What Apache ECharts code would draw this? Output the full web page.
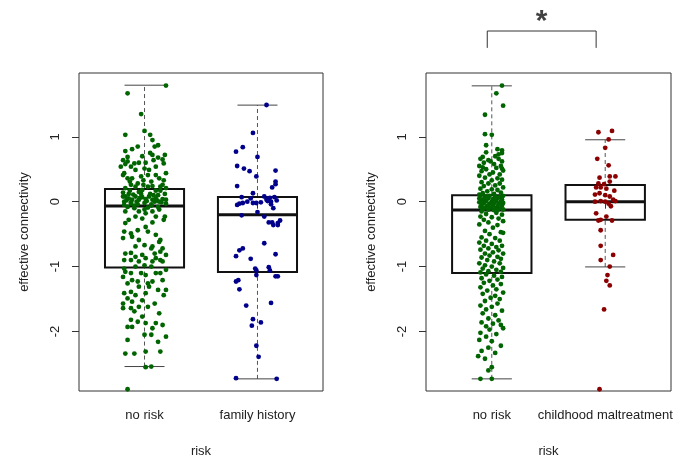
<!DOCTYPE html>
<html>
<head>
<meta charset="utf-8">
<script src="https://cdn.jsdelivr.net/npm/echarts@6/dist/echarts.min.js"></script>
<style>
html,body{margin:0;padding:0;background:#fff;}
#chart{width:673px;height:458px;}
</style>
</head>
<body>
<div id="chart"></div>
<script>
// ---------------- DATA ----------------
const leftCategories = ['no risk', 'family history'];
const rightCategories = ['no risk', 'childhood maltreatment'];
const yTicks = [-2, -1, 0, 1];
const xTicks = [1, 2];
const axisTitleX = 'risk';
const axisTitleY = 'effective connectivity';
const significanceMark = '*';

// box stats: [lower whisker, Q1, median, Q3, upper whisker]
const boxLeftNoRisk = [-2.54, -1.015, -0.066, 0.195, 1.795];
const boxFamilyHistory = [-2.73, -1.082, -0.20, 0.072, 1.488];
const boxRightNoRisk = [-2.73, -1.10, -0.128, 0.098, 1.785];
const boxMaltreatment = [-1.005, -0.28, 0.0, 0.257, 0.954];

// bracket above right panel (x in group units, y in data units)
const bracketX = [0.96, 0.96, 1.92, 1.92];
const bracketY = [2.37, 2.63, 2.63, 2.37];

// jittered points: [jitter offset, value]
const pointsLeftNoRisk = [
[0.19,1.79],[-0.15,1.67],[-0.03,1.35],[-0.17,1.03],[0.00,1.09],[0.05,1.03],[0.07,0.95],[0.12,0.87],[-0.06,0.85],[-0.11,0.81],
[-0.19,0.64],[-0.15,0.69],[-0.17,0.58],[-0.12,0.54],[-0.09,0.59],[-0.05,0.60],[0.01,0.60],[0.07,0.72],[0.08,0.64],[0.16,0.65],
[0.17,0.59],[0.10,0.54],[0.00,0.51],[-0.08,0.49],[-0.21,0.54],[-0.18,0.44],[-0.15,0.36],[-0.11,0.36],[-0.03,0.39],[0.03,0.41],
[0.10,0.41],[0.19,0.44],[-0.19,0.41],[-0.06,0.28],[-0.01,0.33],[0.06,0.31],[0.13,0.36],[-0.12,0.26],[-0.08,0.23],[0.03,0.23],
[0.07,0.24],[0.16,0.26],[0.19,0.21],[-0.17,0.21],[-0.13,0.17],[-0.05,0.15],[-0.02,0.18],[0.10,0.17],[0.14,0.17],[-0.19,0.08],
[-0.17,0.08],[-0.14,0.05],[-0.11,0.03],[-0.08,0.08],[-0.05,0.03],[-0.02,0.07],[0.01,0.04],[0.04,0.08],[0.07,0.03],[0.10,0.05],
[0.13,0.00],[0.16,0.04],[0.19,0.03],[-0.18,0.00],[-0.12,-0.03],[-0.06,-0.04],[0.00,-0.02],[0.06,-0.04],[0.09,0.00],[-0.15,-0.08],
[-0.09,-0.10],[0.03,-0.09],[0.12,-0.08],[0.19,-0.03],[-0.17,-0.15],[-0.05,-0.15],[0.01,-0.18],[0.07,-0.15],[0.10,-0.23],[0.17,-0.28],
[0.18,-0.23],[-0.02,-0.26],[-0.08,-0.23],[-0.14,-0.28],[0.07,-0.32],[-0.17,-0.33],[0.01,-0.39],[-0.06,-0.44],[-0.12,-0.49],[-0.18,-0.46],
[0.03,-0.46],[0.10,-0.51],[0.14,-0.59],[-0.11,-0.54],[-0.05,-0.59],[-0.19,-0.56],[0.00,-0.67],[-0.08,-0.69],[0.07,-0.69],[0.13,-0.62],
[0.16,-0.72],[0.06,-0.72],[-0.17,-0.80],[-0.12,-0.79],[-0.02,-0.82],[0.09,-0.80],[0.14,-0.77],[0.19,-0.82],[-0.08,-0.85],[0.01,-0.87],
[0.10,-0.87],[0.14,-0.90],[-0.18,-0.90],[-0.12,-0.90],[-0.05,-0.92],[0.07,-0.92],[0.16,-0.92],[-0.18,-1.03],[-0.08,-1.00],[0.00,-0.98],
[0.06,-1.00],[0.19,-1.05],[-0.17,-1.08],[-0.12,-1.10],[-0.03,-1.10],[0.01,-1.13],[0.10,-1.10],[0.14,-1.10],[-0.19,-1.16],[-0.11,-1.21],
[-0.06,-1.23],[0.03,-1.26],[0.07,-1.23],[0.16,-1.21],[-0.15,-1.26],[0.19,-1.36],[-0.12,-1.39],[-0.05,-1.31],[0.04,-1.31],[0.12,-1.36],
[-0.18,-1.41],[-0.08,-1.44],[0.01,-1.41],[0.17,-1.44],[-0.15,-1.49],[-0.02,-1.52],[0.09,-1.57],[-0.19,-1.57],[-0.11,-1.54],[-0.05,-1.62],
[0.03,-1.62],[-0.12,-1.64],[-0.09,-1.69],[-0.19,-1.64],[-0.02,-1.77],[0.13,-1.72],[-0.06,-1.85],[-0.12,-1.82],[0.01,-1.87],[0.10,-1.87],
[-0.15,-1.93],[-0.11,-1.93],[0.07,-1.95],[0.16,-1.90],[0.00,-2.05],[0.06,-2.05],[0.19,-2.08],[-0.15,-2.13],[0.12,-2.16],[0.01,-2.31],
[-0.17,-2.34],[-0.09,-2.34],[0.14,-2.31],[0.06,-2.54],[0.01,-2.55],[-0.15,-2.89],
[-0.14,0.12],[-0.10,0.11],[-0.03,0.12],[0.05,0.12],[0.12,0.10],[0.18,0.12],[-0.16,0.02],[-0.07,0.00],[0.02,0.01],[0.11,0.02],
[-0.12,-0.01],[0.15,-0.01],[-0.04,0.06],[0.08,0.10],[-0.19,0.14],[0.14,0.23],[-0.01,0.26],[-0.13,0.31],[0.17,0.33],[0.04,0.49],
[-0.15,0.62],[0.12,0.68],[0.18,0.72],[-0.02,0.70],[0.05,0.75],[-0.17,0.78],[0.09,0.85],[-0.09,-0.06],[0.06,-0.06],[0.13,-0.12],
[-0.18,-0.05],[0.00,-0.12]
];
const pointsFamilyHistory = [
[0.08,1.49],[-0.04,1.06],[-0.19,0.77],[-0.13,0.84],[0.00,0.69],[-0.18,0.55],[-0.12,0.51],[-0.07,0.47],[0.16,0.48],[-0.01,0.39],
[0.16,0.31],[0.16,0.27],[-0.18,0.24],[0.13,0.22],[-0.04,0.13],[0.06,0.08],[-0.14,0.07],[0.11,0.06],[0.15,0.07],[-0.09,0.00],
[-0.13,-0.02],[-0.04,-0.02],[-0.01,-0.02],[0.08,0.03],[0.12,0.00],[0.17,0.02],[-0.18,-0.05],[0.14,-0.10],[-0.14,-0.21],[0.00,-0.16],
[0.06,-0.23],[0.10,-0.32],[0.13,-0.32],[0.20,-0.29],[0.18,-0.36],[0.06,-0.64],[-0.13,-0.72],[-0.16,-0.75],[-0.19,-0.84],[-0.06,-0.88],
[0.16,-0.81],[-0.02,-1.03],[-0.01,-1.06],[-0.01,-1.13],[0.10,-1.01],[0.11,-1.06],[0.16,-1.15],[0.18,-1.15],[-0.17,-1.21],[-0.19,-1.23],
[-0.16,-1.35],[-0.10,-1.60],[0.12,-1.56],[-0.04,-1.81],[-0.05,-1.91],[0.03,-1.86],[-0.01,-2.22],[0.01,-2.39],[-0.19,-2.72],[0.17,-2.73],
[-0.06,0.05],[0.09,0.01],[0.03,-0.01],[-0.16,-0.03],[0.12,-0.04],[0.18,-0.33],[0.14,-0.36]
];
const pointsRightNoRisk = [
[0.09,1.79],[0.04,1.67],[0.10,1.48],[-0.06,1.34],[-0.06,1.04],[0.00,1.03],[-0.05,0.87],[0.05,0.81],[0.09,0.79],[0.09,0.75],[-0.08,0.69],
[-0.10,0.66],[-0.03,0.64],[0.06,0.66],[0.09,0.62],[-0.07,0.60],[0.02,0.58],[-0.11,0.55],[0.08,0.55],[0.04,0.52],[-0.05,0.50],
[-0.09,0.47],[0.10,0.48],[0.01,0.45],[-0.02,0.42],[0.07,0.42],[-0.11,0.40],[-0.06,0.37],[0.05,0.36],[0.09,0.34],[0.00,0.33],
[-0.09,0.30],[-0.03,0.28],[0.07,0.28],[0.03,0.25],[-0.07,0.24],[0.10,0.22],[-0.10,0.20],[0.00,0.19],[0.05,0.18],[-0.04,0.16],
[0.08,0.14],[-0.08,0.13],[0.02,0.12],[-0.11,0.11],[0.06,0.73],[-0.05,0.76],[0.03,0.70],[-0.01,0.62],[0.09,0.51],[-0.08,0.53],
[-0.10,0.09],[-0.06,0.08],[-0.02,0.09],[0.03,0.08],[0.07,0.07],[0.10,0.09],[-0.11,0.05],[-0.07,0.04],[-0.03,0.05],[0.01,0.04],
[0.05,0.05],[0.09,0.03],[-0.09,0.02],[-0.05,0.01],[0.00,0.00],[0.04,0.01],[0.08,0.00],[-0.11,-0.01],[-0.07,-0.02],[-0.02,-0.03],
[0.02,-0.02],[0.06,-0.03],[0.10,-0.02],[-0.09,-0.05],[-0.04,-0.06],[0.01,-0.05],[0.05,-0.07],[0.09,-0.06],[-0.10,-0.08],[-0.06,-0.09],
[-0.01,-0.09],[0.03,-0.10],[0.07,-0.10],[-0.08,-0.12],[-0.03,-0.12],[0.02,-0.13],[0.10,-0.12],[0.05,-0.13],
[-0.09,-0.15],[0.04,-0.17],[-0.05,-0.19],[0.09,-0.20],[-0.10,-0.23],[0.00,-0.24],[0.06,-0.26],[-0.07,-0.28],[0.10,-0.30],[-0.03,-0.32],
[-0.11,-0.35],[0.05,-0.36],[0.01,-0.40],[-0.06,-0.45],[0.08,-0.47],[-0.02,-0.50],[0.10,-0.48],[-0.09,-0.55],[0.03,-0.56],[-0.05,-0.60],
[0.07,-0.60],[-0.11,-0.63],[0.00,-0.65],[-0.07,-0.68],[0.09,-0.68],[0.04,-0.70],[-0.03,-0.72],[-0.10,-0.74],[0.06,-0.75],[0.01,-0.78],
[-0.06,-0.80],[0.10,-0.80],[-0.02,-0.83],[0.05,-0.85],[-0.09,-0.86],[0.08,-0.88],[-0.04,-0.90],[0.02,-0.92],[-0.11,-0.95],[0.07,-0.95],
[-0.06,-0.98],[0.00,-1.00],[0.10,-1.02],[-0.08,-1.03],[0.04,-1.05],[-0.03,-1.07],[0.08,-1.08],[-0.10,-1.09],
[-0.05,-1.12],[0.02,-1.14],[0.09,-1.16],[-0.09,-1.18],[0.05,-1.20],[-0.02,-1.22],[-0.07,-1.25],[0.08,-1.27],[0.01,-1.29],[-0.10,-1.32],
[0.04,-1.35],[-0.04,-1.37],[0.10,-1.40],[-0.08,-1.42],[0.03,-1.45],[-0.01,-1.48],[0.07,-1.50],[-0.06,-1.53],[0.05,-1.57],[-0.10,-1.60],
[0.00,-1.62],[-0.05,-1.66],[0.09,-1.68],[-0.08,-1.72],[0.03,-1.75],[-0.03,-1.80],[0.06,-1.83],[-0.09,-1.86],[0.01,-1.88],[0.08,-1.90],
[-0.05,-1.92],[0.10,-1.95],[-0.02,-1.97],[-0.10,-2.02],[0.04,-2.04],[-0.05,-2.08],[-0.11,-2.13],[0.00,-2.15],[0.08,-2.22],[-0.03,-2.25],
[-0.09,-2.30],[0.03,-2.33],[-0.12,-2.38],[-0.06,-2.42],[0.00,-2.55],[-0.03,-2.60],[0.00,-2.73],[-0.10,-2.73]
];
const pointsMaltreatment = [
[-0.06,1.07],[0.06,1.09],[0.03,0.96],[0.00,0.83],[-0.07,0.66],[0.03,0.56],[0.04,0.39],[0.09,0.39],[-0.05,0.37],[0.04,0.31],
[-0.06,0.28],[-0.01,0.27],[-0.04,0.22],[0.01,0.20],[-0.08,0.22],[0.08,0.17],[-0.09,0.11],[-0.05,0.13],[0.00,0.10],[0.04,0.08],
[-0.09,0.00],[-0.04,0.01],[0.00,0.00],[0.03,-0.03],[0.05,-0.07],[0.09,0.01],[0.07,0.03],[-0.08,-0.18],[0.01,-0.23],[-0.04,-0.28],
[-0.06,-0.29],[0.06,-0.29],[-0.04,-0.44],[-0.04,-0.68],[-0.04,-0.90],[0.07,-0.82],[0.04,-1.00],[0.02,-1.13],[0.01,-1.22],[0.04,-1.29],
[-0.01,-1.66],[-0.05,-2.89]
];

// ---------------- CHART ----------------
const Y_MIN = -2.917, Y_MAX = 1.983, X_MIN = 0.42, X_MAX = 2.58;
const FONT = 'Liberation Sans, Arial, Helvetica, sans-serif';
const TXT = '#222';

const chart = echarts.init(document.getElementById('chart'), null, {renderer: 'canvas'});

function xAxisFor(idx, cats) {
  return {
    type: 'value', gridIndex: idx, min: X_MIN, max: X_MAX,
    splitLine: {show: false},
    axisLine: {show: false},
    axisTick: {show: true, length: 7, lineStyle: {color: '#333'}, customValues: xTicks},
    axisLabel: {show: true, margin: 18, color: TXT, fontFamily: FONT, fontSize: 13,
      customValues: xTicks, formatter: v => cats[Math.round(v) - 1] || ''},
    name: axisTitleX, nameLocation: 'middle', nameGap: 54,
    nameTextStyle: {color: TXT, fontFamily: FONT, fontSize: 13}
  };
}
function yAxisFor(idx) {
  return {
    type: 'value', gridIndex: idx, min: Y_MIN, max: Y_MAX,
    splitLine: {show: false},
    axisLine: {show: false},
    axisTick: {show: true, length: 7, lineStyle: {color: '#333'}, customValues: yTicks},
    axisLabel: {show: true, margin: 17, rotate: 90, color: TXT, fontFamily: FONT, fontSize: 13,
      customValues: yTicks, formatter: v => String(v)},
    name: axisTitleY, nameLocation: 'middle', nameGap: 48,
    nameTextStyle: {color: TXT, fontFamily: FONT, fontSize: 13}
  };
}

function boxRender(params, api) {
  const x = api.value(0);
  const lo = api.value(1), q1 = api.value(2), med = api.value(3), q3 = api.value(4), hi = api.value(5);
  const half = 0.35, cap = 0.177;
  const p = (a, b) => api.coord([a, b]);
  const line = (a, b, style) => ({type: 'line', shape: {x1: a[0], y1: a[1], x2: b[0], y2: b[1]}, style: style});
  const dash = {stroke: '#555', lineWidth: 1, lineDash: [4, 3]};
  const capS = {stroke: '#444', lineWidth: 1};
  const tl = p(x - half, q3), br = p(x + half, q1);
  return {
    type: 'group',
    children: [
      line(p(x, q3), p(x, hi), dash),
      line(p(x, lo), p(x, q1), dash),
      line(p(x - cap, hi), p(x + cap, hi), capS),
      line(p(x - cap, lo), p(x + cap, lo), capS),
      {type: 'rect', shape: {x: tl[0], y: tl[1], width: br[0] - tl[0], height: br[1] - tl[1]},
        style: {fill: 'none', stroke: '#111', lineWidth: 2}},
      line(p(x - half, med), p(x + half, med), {stroke: '#111', lineWidth: 3})
    ]
  };
}

function pts(arr, group) { return arr.map(d => [group + d[0], d[1]]); }
function scatter(idx, arr, group, color) {
  return {type: 'scatter', xAxisIndex: idx, yAxisIndex: idx, data: pts(arr, group),
    symbolSize: 4.8, itemStyle: {color: color, opacity: 1}, z: 5, silent: true};
}

const option = {
  backgroundColor: '#fff',
  animation: false,
  grid: [
    {left: 79, top: 73, width: 244, height: 318, show: true, borderColor: '#333', borderWidth: 1,
      backgroundColor: 'transparent', containLabel: false, outerBoundsMode: 'none'},
    {left: 426, top: 73, width: 245, height: 318, show: true, borderColor: '#333', borderWidth: 1,
      backgroundColor: 'transparent', containLabel: false, outerBoundsMode: 'none'}
  ],
  xAxis: [xAxisFor(0, leftCategories), xAxisFor(1, rightCategories)],
  yAxis: [yAxisFor(0), yAxisFor(1)],
  series: [
    {type: 'custom', xAxisIndex: 0, yAxisIndex: 0, renderItem: boxRender, z: 2, silent: true,
      encode: {x: 0, y: [1, 2, 3, 4, 5]},
      data: [[1].concat(boxLeftNoRisk), [2].concat(boxFamilyHistory)]},
    {type: 'custom', xAxisIndex: 1, yAxisIndex: 1, renderItem: boxRender, z: 2, silent: true,
      encode: {x: 0, y: [1, 2, 3, 4, 5]},
      data: [[1].concat(boxRightNoRisk), [2].concat(boxMaltreatment)]},
    scatter(0, pointsLeftNoRisk, 1, '#006400'),
    scatter(0, pointsFamilyHistory, 2, '#00008B'),
    scatter(1, pointsRightNoRisk, 1, '#006400'),
    scatter(1, pointsMaltreatment, 2, '#8B0000'),
    {type: 'line', xAxisIndex: 1, yAxisIndex: 1, clip: false, symbol: 'none', silent: true,
      data: bracketX.map((x, i) => [x, bracketY[i]]),
      lineStyle: {color: '#333', width: 1}},
    {type: 'scatter', xAxisIndex: 1, yAxisIndex: 1, clip: false, silent: true, symbolSize: 1,
      itemStyle: {color: 'transparent'},
      data: [[(bracketX[0] + bracketX[3]) / 2, 2.78]],
      label: {show: true, position: 'inside', formatter: significanceMark, color: '#111',
        fontFamily: FONT, fontSize: 30, fontWeight: 'bold'}}
  ]
};
chart.setOption(option);
</script>
</body>
</html>
